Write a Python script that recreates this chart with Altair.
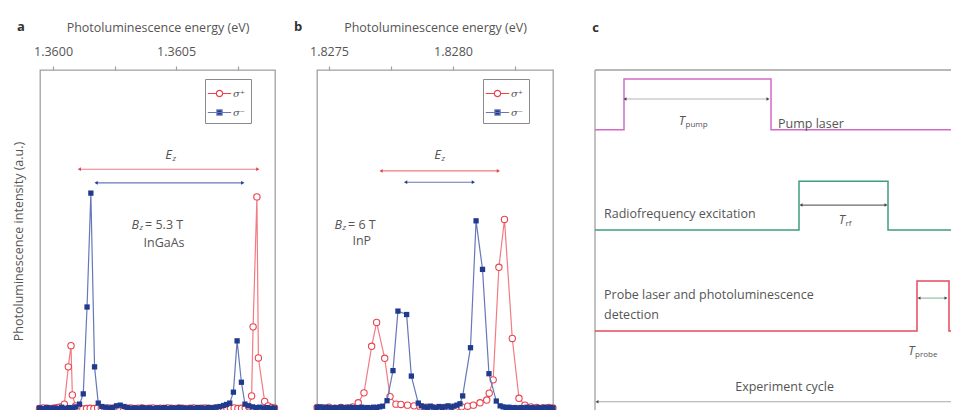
import altair as alt
import pandas as pd

FONT = "Open Sans"
TXT = "#555555"
FRAME = "#a0a0a0"
RED_MK = "#e8434f"
RED_LN = "#f27b84"
BLUE_MK = "#203b8e"
BLUE_LN = "#6678b8"
SP, SM = "σ⁺", "σ⁻"

# ---------------- panel a: InGaAs, energy offset from 1.3600 eV (µeV), intensity (a.u.)
a_base = 1.3600
a_sp_energy = [-55, -40, -25, -10, 5, 20, 31, 46, 62, 73, 78.5, 91.5, 106, 121, 136, 151, 166, 181,
               196, 211, 226, 241, 256, 271, 286, 301, 316, 331, 346, 361, 376, 391, 406, 421, 436,
               451, 466, 481, 496, 511, 526, 541, 556, 571, 586, 601, 616, 631, 646, 661, 676, 691,
               706, 721, 736, 751, 766, 781, 795, 807, 813, 828.5, 834.5, 860, 874, 889, 900]
a_sp_int = [1.0, 1.2, 1.1, 1.0, 1.2, 1.3, 1.5, 2.3, 13.2, 19.4, 5.0, 1.8, 1.2, 0.9, 1.0, 1.1, 1.0, 1.2,
            1.1, 1.0, 1.2, 1.1, 1.3, 1.2, 1.0, 1.1, 1.2, 1.0, 1.1, 1.2, 1.0, 1.1, 1.2, 1.0, 1.1,
            1.0, 1.2, 1.1, 1.0, 1.2, 1.1, 1.0, 1.1, 1.2, 1.0, 1.1, 1.2, 1.1, 1.0, 1.2, 1.1, 1.3,
            1.2, 1.1, 1.2, 1.0, 1.1, 1.2, 1.5, 4.7, 24.9, 62.9, 15.8, 3.1, 1.8, 1.3, 1.2]
a_sm_energy = [-55, -40, -25, -10, 5, 20, 35, 50, 65, 80, 93, 107.7, 122.8, 138.2, 153.7, 168.7, 183.7,
               198, 213, 228, 243, 258, 273, 288, 303, 318, 333, 348, 363, 378, 393, 408, 423, 438,
               453, 468, 483, 498, 513, 528, 543, 558, 573, 588, 603, 618, 633, 648, 663, 678, 693,
               705, 718, 733, 748, 765.5, 780, 795, 810, 825, 840, 855, 870, 885, 900]
a_sm_int = [1.2, 1.0, 1.3, 1.1, 1.2, 1.0, 1.4, 1.1, 1.3, 1.2, 1.5, 2.3, 5.3, 30.7, 64.0, 13.2, 2.6,
            1.6, 1.4, 1.2, 1.3, 1.8, 2.0, 1.6, 1.3, 1.1, 1.2, 1.0, 1.3, 1.1, 1.2, 1.0, 1.2, 1.1,
            1.3, 1.0, 1.2, 1.1, 1.3, 1.2, 1.0, 1.2, 1.1, 1.3, 1.2, 1.1, 1.3, 1.2, 1.4, 1.6, 1.9,
            2.2, 2.6, 5.8, 20.8, 8.7, 2.3, 1.8, 1.5, 1.3, 1.4, 1.2, 1.3, 1.1, 1.2]
a_ticks = [1.36, 1.36025, 1.3605, 1.36075]
a_majors = [1.36, 1.3605]
a_domain = [1.359947, 1.360902]
# E_z arrows (start, end offsets in µeV, level) for sigma+ and sigma-
a_arrow_start = [107, 175]
a_arrow_end = [832, 771]
a_arrow_level = [71.0, 67.0]
a_ez_pos = [483.7, 75.1]
a_bz_pos = [349.6, 54.7]
a_bz_value = "= 5.3 T"
a_material = ["InGaAs", 451, 49.3]

# ---------------- panel b: InP, energy offset from 1.8275 eV (µeV)
b_base = 1.8275
b_sp_energy = [-48, -24, 0, 24, 48, 72, 96, 118, 141, 172, 192, 224.6, 246, 270, 290, 316.5, 343, 367,
               391, 415, 439, 463, 487, 511, 535, 559, 582, 609, 636, 646, 662, 685, 707.6, 739, 766,
               790, 814, 838, 862, 886, 903]
b_sp_int = [1.3, 1.2, 1.4, 1.1, 1.3, 1.2, 1.5, 2.7, 5.6, 19.2, 26.2, 15.7, 4.5, 2.3, 2.2, 2.0, 1.8, 1.5,
            1.4, 1.3, 1.2, 1.3, 1.2, 1.4, 1.5, 1.7, 2.0, 2.7, 3.5, 5.5, 9.4, 42.3, 56.3, 21.5, 4.0,
            2.0, 1.5, 1.3, 1.2, 1.3, 1.2]
b_sm_energy = [-48, -36, -24, -12, 0, 12, 24, 36, 48, 60, 72, 84, 96, 108, 120, 132, 144, 156, 168, 180,
               192, 204, 216, 234, 258, 278, 313, 332, 360, 372, 384, 396, 408, 420, 432, 444, 456,
               468, 480, 492, 504, 516, 528, 539, 570.5, 593, 619, 645, 674.5, 690, 702, 714, 726,
               738, 750, 762, 774, 786, 798, 810, 822, 834, 846, 858, 870, 882, 894, 903]
b_sm_int = [1.3, 1.5, 1.2, 1.4, 1.3, 1.1, 1.3, 1.2, 1.4, 1.3, 1.2, 1.4, 1.3, 1.2, 1.3, 1.4, 1.2, 1.3,
            1.2, 1.4, 1.3, 1.5, 1.7, 3.3, 12.1, 29.5, 28.5, 10.5, 2.6, 1.8, 1.5, 1.3, 1.7, 1.4, 1.2,
            1.6, 1.3, 1.5, 1.8, 1.4, 1.7, 2.0, 2.4, 4.7, 18.8, 55.9, 41.7, 11.2, 3.2, 1.8, 1.5, 1.3,
            1.4, 1.2, 1.3, 1.1, 1.3, 1.2, 1.4, 1.2, 1.3, 1.1, 1.3, 1.2, 1.4, 1.2, 1.3, 1.2]
b_ticks = [1.8275, 1.82775, 1.828, 1.82825]
b_majors = [1.8275, 1.828]
b_domain = [1.8274516, 1.8284032]
b_arrow_start = [210, 309]
b_arrow_end = [683, 582]
b_arrow_level = [70.5, 67.2]
b_ez_pos = [451.6, 75.1]
b_bz_pos = [52.4, 54.7]
b_bz_value = "= 6 T"
b_material = ["InP", 132, 50.0]

# ---------------- panel c: timing diagram (time in arbitrary units, level in a.u.)
channels = ["Pump", "RF", "Probe"]
channel_colors = ["#d46ac4", "#3f9c7f", "#e84a5c"]
pump_t = [0, 7.25, 44.0, 100]
pump_level = [82.5, 97.4, 82.5, 82.5]
rf_t = [0, 51.0, 73.25, 100]
rf_level = [53.2, 67.5, 53.2, 53.2]
probe_t = [0, 80.5, 88.5, 100]
probe_level = [23.7, 38.3, 23.7, 23.7]
dur_start = [7.5, 51.5, 81.0, 0.5]
dur_end = [43.25, 72.75, 87.75, 100]
dur_level = [91.5, 60.5, 33.3, 3.0]
dur_line_colors = ["#b5b5b5", "#6a6a6a", "#8fb89c", "#a8a8a8"]
dur_sym_t = [22.5, 62.5, 79.9]
dur_sym_level = [85.1, 56.1, 17.8]
dur_sym_sub = ["pump", "rf", "probe"]
c_labels = ["Pump laser", "Radiofrequency excitation", "Probe laser and photoluminescence",
            "detection", "Experiment cycle"]
c_label_t = [45.75, 2.25, 2.25, 2.25, 47.4]
c_label_level = [84.2, 58.0, 34.2, 28.4, 7.2]
c_label_align = ["left", "left", "left", "left", "center"]
c_time_domain = [0, 89.75]

FS = 12.5
PATH_CIRCLE = "M-1.35,0L-0.36,0M0.36,0L1.35,0M0.36,0A0.36,0.36,0,1,1,-0.36,0A0.36,0.36,0,1,1,0.36,0Z"
PATH_SQUARE = "M-1.35,0L1.35,0M-0.3,-0.3L0.3,-0.3L0.3,0.3L-0.3,0.3Z"
PLOT_H = 342


def letter_layer(letter, dx, dy):
    return alt.Chart(pd.DataFrame({"l": [letter]})).mark_text(
        font=FONT, fontSize=13, fontWeight="bold", color="#333333", align="center", baseline="middle"
    ).encode(x=alt.value(dx), y=alt.value(dy), text="l:N")


def spectrum_panel(base, sp_e, sp_i, sm_e, sm_i, dom, ticks, majors, ar_s, ar_e, ar_l,
                   ez, bz, bz_val, material, letter, ytitle, width):
    df = pd.concat([
        pd.DataFrame({"E": [base + v * 1e-6 for v in sp_e], "I": sp_i, "series": SP}),
        pd.DataFrame({"E": [base + v * 1e-6 for v in sm_e], "I": sm_i, "series": SM}),
    ])
    cond = " || ".join(f"abs(datum.value - {m}) < 1e-9" for m in majors)
    xenc = alt.X("E:Q", scale=alt.Scale(domain=dom, nice=False, zero=False),
                 axis=alt.Axis(orient="top", values=ticks, labelExpr=f"({cond}) ? format(datum.value, '.4f') : ''",
                               title="Photoluminescence energy (eV)", domain=False, grid=False,
                               tickColor=FRAME, tickSize=4, tickWidth=1.2, labelPadding=8, titlePadding=11,
                               labelFont=FONT, labelFontSize=FS, labelColor=TXT,
                               titleFont=FONT, titleFontSize=FS, titleFontWeight="normal", titleColor=TXT))
    if ytitle:
        yaxis = alt.Axis(title=ytitle, labels=False, ticks=False, domain=False, grid=False, titlePadding=15,
                         titleFont=FONT, titleFontSize=FS, titleFontWeight="normal", titleColor=TXT)
    else:
        yaxis = None
    yenc = alt.Y("I:Q", scale=alt.Scale(domain=[0, 100], nice=False, zero=False), axis=yaxis)

    basec = alt.Chart(df).encode(x=xenc, y=yenc)
    red_line = basec.transform_filter(alt.datum.series == SP).mark_line(color=RED_LN, strokeWidth=1.2)
    red_pts = basec.transform_filter(alt.datum.series == SP).mark_point(
        shape="circle", size=40, color=RED_MK, fill="white", filled=False, strokeWidth=1.1, opacity=1)
    blue_line = basec.transform_filter(alt.datum.series == SM).mark_line(color=BLUE_LN, strokeWidth=1.2)
    blue_pts = basec.transform_filter(alt.datum.series == SM).mark_square(
        size=28, color=BLUE_MK, opacity=1)

    adf = pd.DataFrame({"E": [base + v * 1e-6 for v in ar_s], "E2": [base + v * 1e-6 for v in ar_e],
                        "I": ar_l, "c": [RED_LN, BLUE_LN]})
    arrows = alt.Chart(adf).mark_rule(strokeWidth=1.1).encode(
        x=xenc, x2="E2:Q", y=yenc, color=alt.Color("c:N", scale=None))
    ends_df = pd.DataFrame({"E": [base + v * 1e-6 for v in ar_s + ar_e], "I": ar_l + ar_l,
                            "c": [RED_MK, BLUE_MK, RED_MK, BLUE_MK],
                            "s": ["triangle-left", "triangle-left", "triangle-right", "triangle-right"]})
    ends = alt.Chart(ends_df).mark_point(filled=True, size=14, opacity=1).encode(
        x=xenc, y=yenc, color=alt.Color("c:N", scale=None), shape=alt.Shape("s:N", scale=None))

    tdf = pd.DataFrame({"E": [base + ez[0] * 1e-6], "I": [ez[1]], "m": ["E"], "s": ["z"]})
    ez_main = alt.Chart(tdf).mark_text(font=FONT, fontSize=13, fontStyle="italic", color=TXT,
                                       align="right", baseline="middle").encode(x=xenc, y=yenc, text="m:N")
    ez_sub = alt.Chart(tdf).mark_text(font=FONT, fontSize=8, fontStyle="italic", color=TXT,
                                      align="left", baseline="middle", dx=0.5, dy=4).encode(x=xenc, y=yenc, text="s:N")
    bdf = pd.DataFrame({"E": [base + bz[0] * 1e-6], "I": [bz[1]], "m": ["B"], "s": ["z"], "r": [bz_val]})
    bz_main = alt.Chart(bdf).mark_text(font=FONT, fontSize=FS, fontStyle="italic", color=TXT,
                                       align="right", baseline="middle").encode(x=xenc, y=yenc, text="m:N")
    bz_sub = alt.Chart(bdf).mark_text(font=FONT, fontSize=8, fontStyle="italic", color=TXT,
                                      align="left", baseline="middle", dx=0.5, dy=3).encode(x=xenc, y=yenc, text="s:N")
    bz_rest = alt.Chart(bdf).mark_text(font=FONT, fontSize=FS, color=TXT,
                                       align="left", baseline="middle", dx=6).encode(x=xenc, y=yenc, text="r:N")
    mdf = pd.DataFrame({"E": [base + material[1] * 1e-6], "I": [material[2]], "t": [material[0]]})
    mat = alt.Chart(mdf).mark_text(font=FONT, fontSize=FS, color=TXT, align="center",
                                   baseline="middle").encode(x=xenc, y=yenc, text="t:N")

    leg = alt.Legend(title=None, orient="none", legendX=width - 70, legendY=9, padding=5, rowPadding=3,
                     strokeColor="#8a8a8a", fillColor="white", symbolSize=300, symbolStrokeWidth=1.2,
                     symbolOpacity=1, labelFont="DejaVu Serif", labelFontStyle="italic", labelFontSize=10,
                     labelColor=TXT, labelOffset=4)
    ldf = pd.DataFrame({"series": [SP, SM]})
    legend_layer = alt.Chart(ldf).mark_point(opacity=0, size=300).encode(
        shape=alt.Shape("series:N", scale=alt.Scale(domain=[SP, SM], range=[PATH_CIRCLE, PATH_SQUARE]), legend=leg),
        stroke=alt.Stroke("series:N", scale=alt.Scale(domain=[SP, SM], range=[RED_MK, BLUE_LN]), legend=leg),
        fill=alt.Fill("series:N", scale=alt.Scale(domain=[SP, SM], range=["white", BLUE_MK]), legend=leg),
    )
    return alt.layer(red_line, red_pts, blue_line, blue_pts, arrows, ends, ez_main, ez_sub,
                     bz_main, bz_sub, bz_rest, mat, legend_layer,
                     letter_layer(letter, -19, -43)).properties(width=width, height=PLOT_H)


pa = spectrum_panel(a_base, a_sp_energy, a_sp_int, a_sm_energy, a_sm_int, a_domain, a_ticks, a_majors,
                    a_arrow_start, a_arrow_end, a_arrow_level, a_ez_pos, a_bz_pos, a_bz_value, a_material,
                    "a", "Photoluminescence intensity (a.u.)", 235)
pb = spectrum_panel(b_base, b_sp_energy, b_sp_int, b_sm_energy, b_sm_int, b_domain, b_ticks, b_majors,
                    b_arrow_start, b_arrow_end, b_arrow_level, b_ez_pos, b_bz_pos, b_bz_value, b_material,
                    "b", None, 236)

# ---------------- panel c
C_W = 356
cdf = pd.concat([
    pd.DataFrame({"t": pump_t, "L": pump_level, "ch": "Pump"}),
    pd.DataFrame({"t": rf_t, "L": rf_level, "ch": "RF"}),
    pd.DataFrame({"t": probe_t, "L": probe_level, "ch": "Probe"}),
])
tx = alt.X("t:Q", scale=alt.Scale(domain=[0, c_time_domain[1] * C_W / 359], nice=False, zero=False), axis=None)
ty = alt.Y("L:Q", scale=alt.Scale(domain=[0, 100], nice=False, zero=False), axis=None)
steps = alt.Chart(cdf).mark_line(interpolate="step-after", strokeWidth=1.5, clip=True).encode(
    x=tx, y=ty, color=alt.Color("ch:N", scale=alt.Scale(domain=channels, range=channel_colors), legend=None))
ddf = pd.DataFrame({"t": dur_start, "t2": dur_end, "L": dur_level, "c": dur_line_colors})
dur_rules = alt.Chart(ddf).mark_rule(strokeWidth=1.1, clip=True).encode(
    x=tx, x2="t2:Q", y=ty, color=alt.Color("c:N", scale=None))
dends = pd.DataFrame({"t": dur_start + dur_end, "L": dur_level + dur_level,
                      "s": ["triangle-left"] * 4 + ["triangle-right"] * 4})
dur_ends = alt.Chart(dends).mark_point(filled=True, size=12, color="#444444", opacity=1, clip=True).encode(
    x=tx, y=ty, shape=alt.Shape("s:N", scale=None))
sdf = pd.DataFrame({"t": dur_sym_t, "L": dur_sym_level, "m": ["T"] * 3, "s": dur_sym_sub})
t_main = alt.Chart(sdf).mark_text(font=FONT, fontSize=FS, fontStyle="italic", color=TXT, align="right",
                                  baseline="middle").encode(x=tx, y=ty, text="m:N")
t_sub = alt.Chart(sdf).mark_text(font=FONT, fontSize=8, color=TXT, align="left", baseline="middle",
                                 dx=0.5, dy=4).encode(x=tx, y=ty, text="s:N")
ldf_c = pd.DataFrame({"t": c_label_t, "L": c_label_level, "txt": c_labels, "a": c_label_align})
lab_left = alt.Chart(ldf_c).transform_filter(alt.datum.a == "left").mark_text(
    font=FONT, fontSize=FS, color=TXT, align="left", baseline="middle").encode(x=tx, y=ty, text="txt:N")
lab_center = alt.Chart(ldf_c).transform_filter(alt.datum.a == "center").mark_text(
    font=FONT, fontSize=FS, color=TXT, align="center", baseline="middle").encode(x=tx, y=ty, text="txt:N")
frame_df = pd.DataFrame({"f": [0]})
frame_top = alt.Chart(frame_df).mark_rule(color=FRAME, strokeWidth=1.3).encode(
    x=alt.value(0), x2=alt.value(C_W), y=alt.value(0))
frame_left = alt.Chart(frame_df).mark_rule(color=FRAME, strokeWidth=1.3).encode(
    x=alt.value(0), y=alt.value(0), y2=alt.value(PLOT_H))
pc = alt.layer(frame_top, frame_left, steps, dur_rules, dur_ends, t_main, t_sub, lab_left, lab_center,
               letter_layer("c", 0.5, -42)).properties(
    width=C_W, height=PLOT_H, view=alt.ViewConfig(stroke="transparent"))

chart = alt.hconcat(pa, pb, pc, spacing=42, bounds="flush").resolve_scale(
    shape="independent", stroke="independent", fill="independent", color="independent"
).properties(
    padding={"left": 3, "top": 12, "right": 0, "bottom": 0},
    background="white",
).configure_view(stroke=FRAME, strokeWidth=1.3).configure_text(font=FONT)

chart.save("out.html", embed_options={"renderer": "svg", "actions": False})
